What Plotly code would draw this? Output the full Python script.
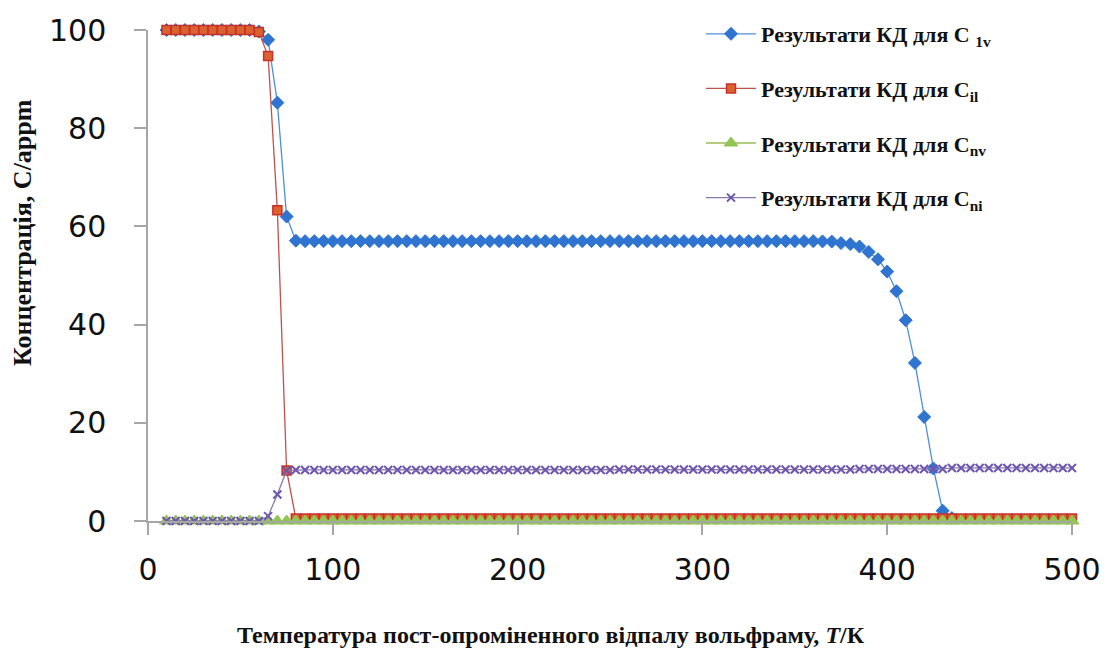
import plotly.graph_objects as go

# Temperature, K
T = [10, 15, 20, 25, 30, 35, 40, 45, 50, 55,
     60, 65, 70, 75, 80, 85, 90, 95, 100, 105,
     110, 115, 120, 125, 130, 135, 140, 145, 150, 155,
     160, 165, 170, 175, 180, 185, 190, 195, 200, 205,
     210, 215, 220, 225, 230, 235, 240, 245, 250, 255,
     260, 265, 270, 275, 280, 285, 290, 295, 300, 305,
     310, 315, 320, 325, 330, 335, 340, 345, 350, 355,
     360, 365, 370, 375, 380, 385, 390, 395, 400, 405,
     410, 415, 420, 425, 430, 435, 440, 445, 450, 455,
     460, 465, 470, 475, 480, 485, 490, 495, 500]

C_1v = [100, 100, 100, 100, 100, 100, 100, 100, 100, 100,
        99.7, 98.0, 85.2, 62.0, 57.1, 57.0, 57.0, 57.0, 57.0, 57.0,
        57.0, 57.0, 57.0, 57.0, 57.0, 57.0, 57.0, 57.0, 57.0, 57.0,
        57.0, 57.0, 57.0, 57.0, 57.0, 57.0, 57.0, 57.0, 57.0, 57.0,
        57.0, 57.0, 57.0, 57.0, 57.0, 57.0, 57.0, 57.0, 57.0, 57.0,
        57.0, 57.0, 57.0, 57.0, 57.0, 57.0, 57.0, 57.0, 57.0, 57.0,
        57.0, 57.0, 57.0, 57.0, 57.0, 57.0, 57.0, 57.0, 57.0, 57.0,
        57.0, 56.95, 56.9, 56.6, 56.4, 55.9, 54.8, 53.3, 50.8, 46.8,
        40.9, 32.2, 21.2, 10.7, 2.1, 0.6, None, None, None, None,
        None, None, None, None, None, None, None, None, None]

C_il = [100, 100, 100, 100, 100, 100, 100, 100, 100, 100,
        99.6, 94.7, 63.3, 10.3, 0.5, 0.5, 0.5, 0.5, 0.5, 0.5,
        0.5, 0.5, 0.5, 0.5, 0.5, 0.5, 0.5, 0.5, 0.5, 0.5,
        0.5, 0.5, 0.5, 0.5, 0.5, 0.5, 0.5, 0.5, 0.5, 0.5,
        0.5, 0.5, 0.5, 0.5, 0.5, 0.5, 0.5, 0.5, 0.5, 0.5,
        0.5, 0.5, 0.5, 0.5, 0.5, 0.5, 0.5, 0.5, 0.5, 0.5,
        0.5, 0.5, 0.5, 0.5, 0.5, 0.5, 0.5, 0.5, 0.5, 0.5,
        0.5, 0.5, 0.5, 0.5, 0.5, 0.5, 0.5, 0.5, 0.5, 0.5,
        0.5, 0.5, 0.5, 0.5, 0.5, 0.5, 0.5, 0.5, 0.5, 0.5,
        0.5, 0.5, 0.5, 0.5, 0.5, 0.5, 0.5, 0.5, 0.5]

C_nv = [0, 0, 0, 0, 0, 0, 0, 0, 0, 0,
        0, 0, 0, 0, 0, 0, 0, 0, 0, 0,
        0, 0, 0, 0, 0, 0, 0, 0, 0, 0,
        0, 0, 0, 0, 0, 0, 0, 0, 0, 0,
        0, 0, 0, 0, 0, 0, 0, 0, 0, 0,
        0, 0, 0, 0, 0, 0, 0, 0, 0, 0,
        0, 0, 0, 0, 0, 0, 0, 0, 0, 0,
        0, 0, 0, 0, 0, 0, 0, 0, 0, 0,
        0, 0, 0, 0, 0, 0, 0, 0, 0, 0,
        0, 0, 0, 0, 0, 0, 0, 0, 0]

C_ni = [0, 0, 0, 0, 0, 0, 0, 0, 0, 0,
        0, 1.0, 5.4, 10.3, 10.4, 10.4, 10.4, 10.4, 10.4, 10.4,
        10.4, 10.4, 10.4, 10.4, 10.4, 10.4, 10.4, 10.4, 10.4, 10.4,
        10.4, 10.4, 10.4, 10.4, 10.4, 10.4, 10.4, 10.4, 10.4, 10.4,
        10.4, 10.4, 10.4, 10.4, 10.4, 10.4, 10.4, 10.4, 10.4, 10.5,
        10.5, 10.5, 10.5, 10.5, 10.5, 10.5, 10.5, 10.5, 10.5, 10.5,
        10.5, 10.5, 10.5, 10.5, 10.5, 10.5, 10.5, 10.5, 10.5, 10.5,
        10.5, 10.5, 10.5, 10.5, 10.5, 10.6, 10.6, 10.6, 10.6, 10.6,
        10.6, 10.6, 10.6, 10.6, 10.6, 10.8, 10.8, 10.8, 10.8, 10.8,
        10.8, 10.8, 10.8, 10.8, 10.8, 10.8, 10.8, 10.8, 10.8]

names = ["Результати КД для С <sub>1v</sub>",
         "Результати КД для С<sub>il</sub>",
         "Результати КД для С<sub>nv</sub>",
         "Результати КД для С<sub>ni</sub>"]

x_ticks = [0, 100, 200, 300, 400, 500]
y_ticks = [0, 20, 40, 60, 80, 100]

W, H = 1110, 659
OFF = 8              # page body margin in the browser
X0, X1 = 148, 1072   # plot area, px on screen
Y0, Y1 = 521, 30     # y=0 and y=100, px on screen


def px(x):
    return (x - OFF) / W


def py(y):
    return 1 - (y - OFF) / H


fig = go.Figure()

fig.add_trace(go.Scatter(
    x=T, y=C_1v, name=names[0], mode="lines+markers", legendgroup="a",
    line=dict(color="#4F8FD8", width=1.3),
    marker=dict(symbol="diamond", size=10, color="#2F74D0",
                line=dict(color="#2F74D0", width=1)),
    cliponaxis=False))
fig.add_trace(go.Scatter(
    x=T, y=C_il, name=names[1], mode="lines+markers", legendgroup="b",
    line=dict(color="#C0504D", width=1.3),
    marker=dict(symbol="square", size=9, color="#D9622F",
                line=dict(color="#C8302A", width=1.5)),
    cliponaxis=False))
fig.add_trace(go.Scatter(
    x=T, y=C_nv, name=names[2], mode="lines+markers", legendgroup="c",
    line=dict(color="#9BBB59", width=1.3),
    marker=dict(symbol="triangle-up", size=12, color="#92C653",
                line=dict(color="#92C653", width=1)),
    cliponaxis=False))
fig.add_trace(go.Scatter(
    x=T, y=C_ni, name=names[3], mode="lines+markers", legendgroup="d",
    line=dict(color="#8A7AA8", width=1.3),
    marker=dict(symbol="x-thin-open", size=8, color="#6E55B0",
                line=dict(color="#6E55B0", width=2)),
    cliponaxis=False))

fig.update_layout(
    width=W, height=H,
    margin=dict(l=0, r=0, t=0, b=0, autoexpand=False),
    paper_bgcolor="white", plot_bgcolor="white",
    showlegend=True,
    legend=dict(
        x=px(701), xanchor="left", y=py(13), yanchor="top",
        font=dict(family="Liberation Serif", size=22, color="#111111", weight="bold"),
        tracegroupgap=23, itemwidth=50, bgcolor="rgba(0,0,0,0)",
    ),
    annotations=[
        dict(text="<b>Температура пост-опроміненного відпалу вольфраму, <i>Т</i>/К</b>",
             xref="paper", yref="paper", x=px(551), y=py(635),
             xanchor="center", yanchor="middle", showarrow=False,
             font=dict(family="Liberation Serif", size=24, color="#111111")),
        dict(text="<b>Концентрація, С/аppm</b>",
             xref="paper", yref="paper", x=px(22), y=py(233),
             xanchor="center", yanchor="middle", showarrow=False, textangle=-90,
             font=dict(family="Liberation Serif", size=26, color="#111111")),
    ],
)

fig.update_xaxes(
    domain=[px(X0), px(X1)],
    range=[0, 500], tickvals=x_ticks, ticktext=[str(v) for v in x_ticks],
    showgrid=False, zeroline=False, showline=True, linecolor="#A6A6A6", linewidth=1.5,
    ticks="outside", ticklen=12, tickcolor="#A6A6A6", tickwidth=1.5,
    tickfont=dict(family="DejaVu Sans", size=30, color="#111111"),
    ticklabelstandoff=9,
)
fig.update_yaxes(
    domain=[py(Y0), py(Y1)],
    range=[0, 100], tickvals=y_ticks, ticktext=[str(v) for v in y_ticks],
    showgrid=False, zeroline=False, showline=True, linecolor="#A6A6A6", linewidth=1.5,
    ticks="outside", ticklen=12, tickcolor="#A6A6A6", tickwidth=1.5,
    tickfont=dict(family="DejaVu Sans", size=30, color="#111111"),
    ticklabelstandoff=22,
)

fig.write_html("out.html")
